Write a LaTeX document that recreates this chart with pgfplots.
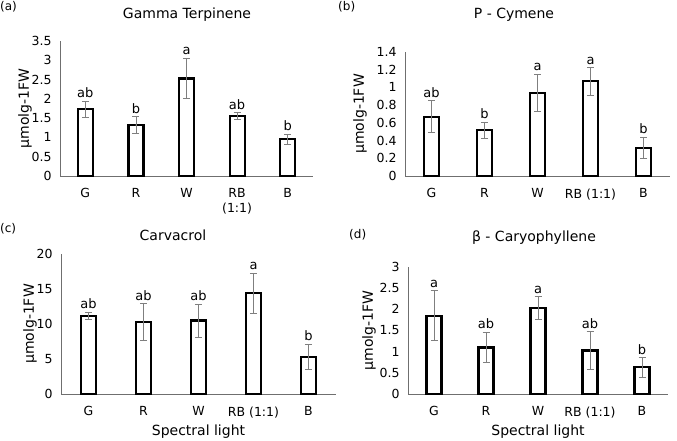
\documentclass[border=0pt]{standalone}
\usepackage{pgfplots}
\usepackage{pgfplotstable}
\pgfplotsset{compat=1.18}
\usepackage{fontspec}
\setmainfont{DejaVu Sans}
\definecolor{axgray}{HTML}{6F6F6F}
\definecolor{errgray}{HTML}{7F7F7F}

\pgfplotstableread{
x val err top lab
0 1.73 0.21 1.94 ab
1 1.32 0.22 1.54 b
2 2.53 0.53 3.06 a
3 1.56 0.08 1.64 ab
4 0.96 0.13 1.09 b
}\dataA
\pgfplotstableread{
x val err top lab
0 0.67 0.18 0.85 ab
1 0.52 0.09 0.61 b
2 0.94 0.21 1.15 a
3 1.07 0.155 1.225 a
4 0.32 0.12 0.44 b
}\dataB
\pgfplotstableread{
x val err top lab
0 11.2 0.5 11.7 ab
1 10.3 2.6 12.9 ab
2 10.5 2.35 12.85 ab
3 14.4 2.9 17.3 a
4 5.3 1.85 7.15 b
}\dataC
\pgfplotstableread{
x val err top lab
0 1.85 0.59 2.44 a
1 1.10 0.36 1.46 ab
2 2.03 0.27 2.30 a
3 1.03 0.44 1.47 ab
4 0.63 0.23 0.86 b
}\dataD

\pgfplotsset{
  panel/.style={
    scale only axis,
    xmin=-0.5, xmax=4.5, ymin=0,
    axis x line=bottom, axis y line=left,
    axis line style={-, draw=axgray, line width=0.8pt},
    major tick length=0pt,
    xtick={0,1,2,3,4},
    tick label style={font=\fontsize{12.5}{14.5}\selectfont},
    yticklabel style={xshift=-5pt},
    xticklabel style={yshift=-9pt},
    /pgf/number format/assume math mode=true,
    ylabel={µmolg-1FW},
    ylabel style={font=\fontsize{14}{16}\selectfont},
    xlabel style={font=\fontsize{14}{16}\selectfont},
    clip=false,
  },
  barplot/.style={ybar, bar width=15pt, fill=white, draw=black, line width=2.2pt,
    error bars/.cd, y dir=both, y explicit,
    error bar style={draw=errgray, line width=0.8pt},
    error mark options={rotate=90, mark size=3.5pt, draw=errgray, line width=0.8pt}},
  letters/.style={draw=none, mark=none, nodes near coords, point meta=explicit symbolic,
    nodes near coords style={anchor=south, font=\fontsize{13}{15}\selectfont, inner sep=3pt}},
}

\begin{document}
\begin{tikzpicture}[x=1pt,y=1pt]
\path[use as bounding box] (0,0) rectangle (677,440);

% (a)
\begin{axis}[panel, at={(60pt,264pt)}, anchor=south west, width=253pt, height=135pt,
  ymax=3.5, ytick={0,0.5,...,3.5}, ylabel shift=-7pt,
  xticklabels={G,R,W,{RB\\(1:1)},B}, xticklabel style={align=center}]
\addplot[barplot] table[x=x, y=val, y error=err] {\dataA};
\addplot[letters] table[x=x, y=top, meta=lab] {\dataA};
\end{axis}

% (b)
\begin{axis}[panel, at={(405pt,264pt)}, anchor=south west, width=265pt, height=124pt,
  ymax=1.4, ytick={0,0.2,...,1.4}, ylabel shift=3pt,
  xticklabels={G,R,W,RB (1:1),B}]
\addplot[barplot] table[x=x, y=val, y error=err] {\dataB};
\addplot[letters] table[x=x, y=top, meta=lab] {\dataB};
\end{axis}

% (c)
\begin{axis}[panel, at={(61pt,46pt)}, anchor=south west, width=275pt, height=140pt,
  ymax=20, ytick={0,5,...,20}, ylabel shift=-7pt,
  xticklabels={G,R,W,RB (1:1),B}, xlabel={Spectral light}]
\addplot[barplot] table[x=x, y=val, y error=err] {\dataC};
\addplot[letters] table[x=x, y=top, meta=lab] {\dataC};
\end{axis}

% (d)
\begin{axis}[panel, at={(408pt,46pt)}, anchor=south west, width=260pt, height=127pt,
  ymax=3, ytick={0,0.5,...,3}, ylabel shift=-3pt,
  xticklabels={G,R,W,RB (1:1),B}, xlabel={Spectral light}]
\addplot[barplot] table[x=x, y=val, y error=err] {\dataD};
\addplot[letters] table[x=x, y=top, meta=lab] {\dataD};
\end{axis}

\node[font=\fontsize{14}{16}\selectfont] at (187,425) {Gamma Terpinene};
\node[font=\fontsize{14}{16}\selectfont] at (514,425) {P - Cymene};
\node[font=\fontsize{14}{16}\selectfont] at (173,205) {Carvacrol};
\node[font=\fontsize{14}{16}\selectfont] at (534,202) {β - Caryophyllene};

\node[font=\fontsize{12}{14}\selectfont, anchor=north west, inner sep=0pt] at (0,439) {(a)};
\node[font=\fontsize{12}{14}\selectfont, anchor=north west, inner sep=0pt] at (338,439) {(b)};
\node[font=\fontsize{12}{14}\selectfont, anchor=north west, inner sep=0pt] at (0,217) {(c)};
\node[font=\fontsize{12}{14}\selectfont, anchor=north west, inner sep=0pt] at (349,211) {(d)};
\end{tikzpicture}
\end{document}
